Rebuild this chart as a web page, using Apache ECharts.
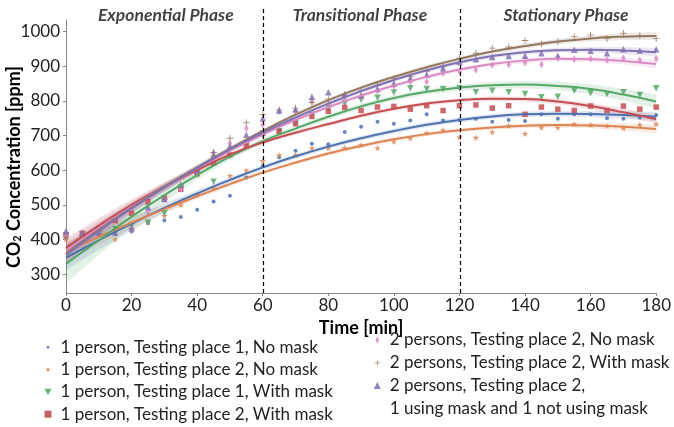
<!DOCTYPE html>
<html><head><meta charset="utf-8">
<script src="https://cdn.jsdelivr.net/npm/echarts@6/dist/echarts.min.js"></script>
<style>html,body{margin:0;padding:0;background:#fff}#c{width:674px;height:427px}</style>
</head><body><div id="c"></div>
<script>
// ---- data ----
const timeScatter = [0,5,10,15,20,25,30,35,40,45,50,55,60,65,70,75,80,85,90,95,100,105,110,115,120,125,130,135,140,145,150,155,160,165,170,175,180];
const timeFit = [0,10,20,30,40,50,60,70,80,90,100,110,120,130,140,150,160,170,180];
const yTicks = [300,400,500,600,700,800,900,1000];
const phaseBounds = [60,120];
const phaseNames = ['Exponential Phase','Transitional Phase','Stationary Phase'];
const phaseCenters = [30.4,89.5,152.3];
const seriesNames = [
  '1 person, Testing place 1, No mask',
  '1 person, Testing place 2, No mask',
  '1 person, Testing place 1, With mask',
  '1 person, Testing place 2, With mask',
  '2 persons, Testing place 2, No mask',
  '2 persons, Testing place 2, With mask',
  '2 persons, Testing place 2,'
];
const extraLegendLine = '1 using mask and 1 not using mask';

const ptsBlue   = [405,408,412,418,423,448,455,465,486,510,526,579,612,637,656,676,675,710,725,740,734,743,761,743,745,748,740,745,742,761,748,761,761,750,748,752,759];
const ptsOrange = [400,410,412,401,430,450,469,500,529,548,584,600,627,644,644,664,664,665,673,664,683,692,707,716,695,694,710,728,705,723,723,733,731,728,721,731,733];
const ptsGreen  = [410,415,420,430,440,449,476,550,587,567,640,673,700,712,735,760,779,793,803,809,824,836,834,834,836,825,829,825,820,810,812,829,822,820,825,817,836];
const ptsRed    = [414,418,430,455,476,510,520,545,590,620,644,670,707,712,734,755,770,781,772,782,784,776,786,772,786,788,779,786,761,782,776,772,785,772,785,776,782];
const ptsPink   = [412,415,420,425,428,480,517,545,595,651,678,721,731,770,769,798,790,808,812,829,843,855,855,880,884,889,903,905,910,905,923,920,921,918,923,918,921];
const ptsBrown  = [405,410,418,428,433,500,517,555,600,651,692,737,761,774,779,795,805,815,830,845,865,870,885,900,923,937,952,955,974,964,970,985,990,980,995,988,980];
const ptsPurple = [425,420,420,420,433,494,517,558,600,645,670,702,750,772,776,812,825,820,815,835,850,865,875,894,912,920,926,929,930,937,930,947,944,937,949,945,949];

const fitBlue   = [348,398,446,491,533,572,608,640,668,692,713,731,745,755,761,763,762,759,754];
const fitOrange = [366,408,449,488,525,560,593,622,648,670,689,704,715,723,728,730,729,725,719];
const fitGreen  = [330,398,466,528,586,639,684,720,754,784,808,826,838,845,847,843,834,818,798];
const fitRed    = [376,440,500,553,600,645,680,708,733,757,777,792,802,806,805,798,785,767,747];
const fitPink   = [368,433,494,551,605,656,703,745,782,815,844,869,890,906,916,921,920,915,906];
const fitBrown  = [360,428,492,552,608,662,713,760,802,838,869,897,921,942,958,971,980,985,987];
const fitPurple = [356,425,490,550,606,660,708,752,792,828,860,888,911,929,940,946,947,945,940];

const bandBlue   = [35,27,20,14,10,8,7,7,7,7,7,7,7,7,8,8,9,11,13];
const bandOrange = [28,22,16,12,9,7,6,6,6,6,6,6,6,6,7,7,8,10,12];
const bandGreen  = [55,42,30,20,13,9,8,8,8,8,8,8,9,10,11,12,14,17,20];
const bandRed    = [28,22,16,12,9,7,6,6,6,6,6,6,6,7,7,8,9,11,13];
const bandPink   = [28,22,16,12,9,7,6,6,6,6,6,6,6,6,7,7,8,10,12];
const bandBrown  = [28,22,16,12,9,7,6,6,6,6,6,6,6,6,7,7,8,10,12];
const bandPurple = [28,22,16,12,9,7,6,6,6,6,6,6,6,6,7,7,8,10,12];

// ---- styling ----
const colors = ['#4C72B0','#DD8452','#55A868','#C44E52','#DA8BC3','#937860','#8172B3'];
const starPath = 'path://M50,0 L61,35 L98,35 L68,57 L79,91 L50,70 L21,91 L32,57 L2,35 L39,35 Z';
const plusPath = 'path://M43,0 H57 V43 H100 V57 H57 V100 H43 V57 H0 V43 H43 Z';
const triDownPath = 'path://M0,0 L100,0 L50,87 Z';
// small dot / small star / thin diamond inside a 100x100 frame (moveTo corners keep the frame)
const dotIcon = 'path://M0,0 M100,100 M50,30 L64,36 L70,50 L64,64 L50,70 L36,64 L30,50 L36,36 Z';
const starIcon = 'path://M0,0 M100,100 M50,12 L59,39 L88,39 L65,56 L73,83 L50,67 L27,83 L35,56 L12,39 L41,39 Z';
const plusIcon = 'path://M0,0 M100,100 M45,12 H55 V45 H88 V55 H55 V88 H45 V55 H12 V45 H45 Z';
const diamondIcon = 'path://M0,0 M100,100 M50,0 L76,50 L50,100 L24,50 Z';
const markers = [
  {symbol:'circle', size:4, rotate:0, legendIcon:dotIcon},
  {symbol:starPath, size:6.5, rotate:0, legendIcon:starIcon},
  {symbol:'triangle', size:6.5, rotate:180, legendIcon:triDownPath},
  {symbol:'rect', size:5.5, rotate:0, legendIcon:'rect'},
  {symbol:'diamond', size:[4.5,7.5], rotate:0, legendIcon:diamondIcon},
  {symbol:plusPath, size:6.5, rotate:0, legendIcon:plusIcon},
  {symbol:'triangle', size:6.5, rotate:0, legendIcon:'triangle'}
];
const pts = [ptsBlue,ptsOrange,ptsGreen,ptsRed,ptsPink,ptsBrown,ptsPurple];
const fits = [fitBlue,fitOrange,fitGreen,fitRed,fitPink,fitBrown,fitPurple];
const bands = [bandBlue,bandOrange,bandGreen,bandRed,bandPink,bandBrown,bandPurple];
const FONT = 'Lato';

function rgba(hex, a){
  const n = parseInt(hex.slice(1),16);
  return 'rgba('+((n>>16)&255)+','+((n>>8)&255)+','+(n&255)+','+a+')';
}

const series = [];
fits.forEach((fit,k)=>{
  series.push({
    type:'custom', name:'band'+k, xAxisIndex:0, yAxisIndex:0, silent:true, z:1, clip:true,
    data: timeFit.map((t,i)=>[t, fit[i]]),
    renderItem: function(params, api){
      if (params.dataIndex !== 0) return null;
      const up = timeFit.map((t,i)=>api.coord([t, fit[i]+bands[k][i]]));
      const lo = timeFit.map((t,i)=>api.coord([t, fit[i]-bands[k][i]])).reverse();
      return {type:'polygon', shape:{points: up.concat(lo)}, style:{fill: rgba(colors[k],0.17)}};
    }
  });
});
fits.forEach((fit,k)=>{
  series.push({
    type:'scatter', name: seriesNames[k], xAxisIndex:0, yAxisIndex:0, z:2,
    data: timeScatter.map((t,i)=>[t, pts[k][i]]),
    symbol: markers[k].symbol, symbolSize: markers[k].size, symbolRotate: markers[k].rotate,
    itemStyle:{color: colors[k], opacity:0.85}
  });
  series.push({
    type:'line', name:'fit'+k, xAxisIndex:0, yAxisIndex:0, z:3, silent:true,
    data: timeFit.map((t,i)=>[t, fit[i]]),
    smooth:true, showSymbol:false, symbol:'none',
    lineStyle:{color: colors[k], width:2}
  });
});
// dummy series for 2nd line of the last legend entry
series.push({type:'scatter', name: extraLegendLine, xAxisIndex:0, yAxisIndex:0, data:[], symbol:'rect', itemStyle:{color:'rgba(0,0,0,0)'}});
// overlay: phase boundaries and titles
series.push({
  type:'scatter', name:'phases', xAxisIndex:1, yAxisIndex:1, silent:true, z:5,
  symbolSize:0,
  data: phaseCenters.map((x,i)=>({value:[x,0.972], name: phaseNames[i]})),
  label:{show:true, position:'inside', formatter:'{b}', fontFamily:FONT, fontSize:17.5, fontStyle:'italic', fontWeight:'bold', color:'#111'},
  markLine:{
    silent:true, symbol:['none','none'], label:{show:false},
    lineStyle:{color:'#000', type:[4,3], width:1.2},
    data: phaseBounds.map(x=>({xAxis:x}))
  }
});

function legendItem(k){
  return {name: seriesNames[k], icon: markers[k].legendIcon, itemStyle:{color: colors[k], opacity:0.9}};
}
const legendText = {fontFamily:FONT, fontSize:17, color:'#222', padding:[0,0,0,4], lineHeight:17};
const option = {
  animation:false,
  backgroundColor:'#fff',
  grid:[
    {left:66, right:17, top:20, bottom:134},
    {left:66, right:17, top:7, bottom:134}
  ],
  xAxis:[
    {type:'value', gridIndex:0, min:0, max:180, interval:20,
     axisLine:{lineStyle:{color:'#888', width:1}},
     axisTick:{show:true, length:3, lineStyle:{color:'#888'}},
     axisLabel:{fontFamily:FONT, fontSize:17, color:'#222', margin:4},
     splitLine:{show:false},
     name:'Time [min]', nameLocation:'middle', nameGap:22,
     nameTextStyle:{fontFamily:FONT, fontSize:18, fontWeight:'bold', color:'#000'}},
    {type:'value', gridIndex:1, min:0, max:180, show:false}
  ],
  yAxis:[
    {type:'value', gridIndex:0, min:246, max:1033,
     axisLine:{show:true, lineStyle:{color:'#888', width:1}},
     axisTick:{show:true, length:3, lineStyle:{color:'#888'}, customValues:yTicks},
     axisLabel:{fontFamily:FONT, fontSize:17, color:'#222', margin:6, customValues:yTicks,
                formatter: v => String(v)},
     splitLine:{show:false}},
    {type:'value', gridIndex:1, min:0, max:1, show:false}
  ],
  legend:[
    {data: [0,1,2,3].map(legendItem), orient:'vertical', left:44.5, top:338.8, height:90, padding:0,
     itemWidth:7, itemHeight:7, itemGap:5.3, selectedMode:false, textStyle:legendText},
    {data: [4,5,6].map(legendItem).concat([{name:extraLegendLine, icon:'rect', itemStyle:{opacity:0, color:'rgba(0,0,0,0)'}}]),
     orient:'vertical', left:373.8, top:331.5, height:96, padding:0,
     itemWidth:7, itemHeight:7, itemGap:5.8, selectedMode:false, textStyle:legendText}
  ],
  graphic:[
    {type:'text', x:14, y:167, rotation:Math.PI/2, silent:true,
     style:{text:'{a|CO}{s|2}{a| Concentration [ppm]}', align:'center', verticalAlign:'middle',
       rich:{a:{fontFamily:FONT, fontSize:18, fontWeight:'bold', fill:'#000'},
             s:{fontFamily:FONT, fontSize:11, fontWeight:'bold', fill:'#000', verticalAlign:'bottom', padding:[7,0,0,0]}}}}
  ],
  series: series
};
const chart = echarts.init(document.getElementById('c'));
chart.setOption(option);
</script>
</body></html>
